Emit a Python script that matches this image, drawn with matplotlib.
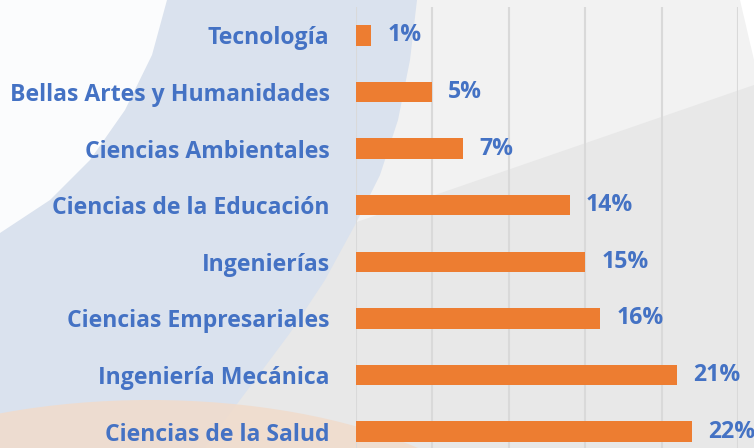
import matplotlib
matplotlib.use("Agg")
import matplotlib.pyplot as plt
from matplotlib.patches import Polygon, Ellipse

categories = [
    "Tecnología",
    "Bellas Artes y Humanidades",
    "Ciencias Ambientales",
    "Ciencias de la Educación",
    "Ingenierías",
    "Ciencias Empresariales",
    "Ingeniería Mecánica",
    "Ciencias de la Salud",
]
values = [1, 5, 7, 14, 15, 16, 21, 22]
value_labels = ["1%", "5%", "7%", "14%", "15%", "16%", "21%", "22%"]

BLUE = "#4472C4"
ORANGE = "#ED7D31"
W, H = 754, 448

plt.rcParams["font.family"] = ["Open Sans", "DejaVu Sans"]
fig = plt.figure(figsize=(W / 100, H / 100), dpi=100)
fig.patch.set_facecolor("#f2f2f2")

# background decoration, in pixel space
bg = fig.add_axes([0, 0, 1, 1], zorder=0)
bg.set_xlim(0, W)
bg.set_ylim(H, 0)
bg.axis("off")
bg.add_patch(Polygon([(0, 345), (754, 85), (754, 448), (0, 448)],
                     closed=True, color="#e8e8e8", lw=0))
bg.add_patch(Polygon([(0, 0), (417, 0), (410, 60), (398, 120), (380, 175),
                      (355, 225), (325, 280), (290, 333), (255, 380),
                      (225, 420), (205, 448), (0, 448)],
                     closed=True, color="#dae2ee", lw=0))
bg.add_patch(Polygon([(0, 0), (167, 0), (152, 55), (125, 110), (90, 160),
                      (50, 200), (0, 233)],
                     closed=True, color="#fbfcfd", lw=0))
bg.add_patch(Ellipse((150, 565), 760, 330, color="#f0dccd", lw=0, alpha=0.9))
bg.add_patch(Polygon([(740, 0), (754, 0), (754, 60)], closed=True,
                     color="#ffffff", lw=0))

# main chart
top_px, bot_px = 7, 460
left_px, right_px = 356, 738
ax = fig.add_axes([left_px / W, (H - bot_px) / H,
                   (right_px - left_px) / W, (bot_px - top_px) / H], zorder=1)
ax.set_facecolor("none")

y = list(range(len(categories)))
ax.barh(y, values, height=0.36, color=ORANGE, zorder=3)
ax.set_xlim(0, 25)
ax.set_ylim(len(categories) - 0.5, -0.5)
ax.set_xticks([0, 5, 10, 15, 20, 25])
ax.xaxis.grid(True, color="#d9d9d9", lw=1.5, zorder=0)
ax.tick_params(axis="x", length=0, labelbottom=False)
ax.tick_params(axis="y", length=0, pad=19)
ax.set_yticks(y)
ax.set_yticklabels(categories, color=BLUE, fontsize=16.6, fontweight="bold")
for s in ax.spines.values():
    s.set_visible(False)

for yi, v, lab in zip(y, values, value_labels):
    ax.annotate(lab, (v, yi), xytext=(11.5, 0), textcoords="offset points",
                ha="left", va="center", color=BLUE, fontsize=16.6,
                fontweight="bold")

fig.savefig("out.png", dpi=100, facecolor=fig.get_facecolor())
